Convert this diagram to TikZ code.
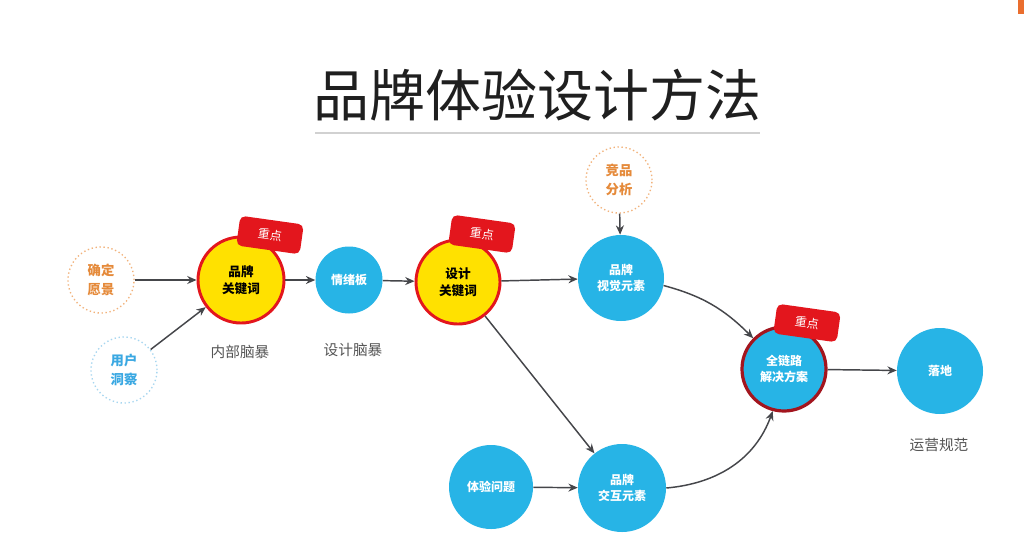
\documentclass[tikz,border=0pt]{standalone}
\usepackage{fontspec}
\newfontfamily\cjk{Noto Sans CJK SC}
\usetikzlibrary{arrows.meta}
\definecolor{cblue}{HTML}{27B4E6}
\definecolor{cyel}{HTML}{FFE100}
\definecolor{cred}{HTML}{E3161D}
\definecolor{cdred}{HTML}{A3151E}
\definecolor{corange}{HTML}{E58A3A}
\definecolor{cdashor}{HTML}{F2B27A}
\definecolor{cltblue}{HTML}{3AA8E2}
\definecolor{cdashbl}{HTML}{A6D6F0}
\definecolor{carrow}{HTML}{45464A}
\definecolor{clabel}{HTML}{555555}
\tikzset{
  base/.style={circle, inner sep=0pt, align=center, font=\cjk\fontsize{9}{12}\selectfont\bfseries},
  bluenode/.style={base, fill=cblue, text=white, minimum size=#1},
  yelnode/.style={base, fill=cyel, draw=cred, line width=2.2pt, text=black, minimum size=#1, font=\cjk\fontsize{9.5}{13}\selectfont\bfseries},
  dashnode/.style={base, draw=#1, dotted, line width=1pt, minimum size=66*0.75pt, font=\cjk\fontsize{10}{14}\selectfont\bfseries},
  tag/.style={rectangle, rounded corners=4pt, fill=cred, text=white, minimum width=64*0.75pt, minimum height=30*0.75pt, inner sep=0pt, rotate=-8, font=\cjk\fontsize{9}{10}\selectfont},
  lbl/.style={text=clabel, font=\cjk\fontsize{11}{12}\selectfont},
  arr/.style={draw=carrow, line width=1.1pt, -{Stealth[length=7pt,width=6pt]}},
}
\begin{document}
\begin{tikzpicture}[x=0.75pt,y=-0.75pt]
\useasboundingbox (0,0) rectangle (1024,558);
\fill[white] (0,0) rectangle (1024,558);
\fill[corange!80!red] (1018,0) rectangle (1024,14);
% title
\node[text=black!88, font=\cjk\fontsize{42}{46}\selectfont] (title) at (537,95) {品牌体验设计方法};
\draw[black!18, line width=1pt] (315,133) -- (760,133);
% nodes
\node[dashnode=cdashor, text=corange] (vision) at (101,280) {确定\\愿景};
\node[dashnode=cdashbl, text=cltblue] (user) at (124,370) {用户\\洞察};
\node[yelnode=86*0.75pt] (bkw) at (241,280) {品牌\\关键词};
\node[bluenode=67*0.75pt] (mood) at (349,280) {情绪板};
\node[yelnode=84*0.75pt] (dkw) at (458,282) {设计\\关键词};
\node[dashnode=cdashor, text=corange] (comp) at (619,180) {竞品\\分析};
\node[bluenode=86*0.75pt] (vis) at (621,278) {品牌\\视觉元素};
\node[bluenode=84*0.75pt, draw=cdred, line width=2.4pt] (full) at (784,369) {全链路\\解决方案};
\node[bluenode=86*0.75pt] (land) at (940,371) {落地};
\node[bluenode=84*0.75pt] (exp) at (491,487) {体验问题};
\node[bluenode=88*0.75pt] (inter) at (622,488) {品牌\\交互元素};
% tags
\node[tag] (t1) at (270,235) {重点};
\node[tag] (t2) at (482,234) {重点};
\node[tag] (t3) at (807,323) {重点};
% labels
\node[lbl] (l1) at (240,352) {内部脑暴};
\node[lbl] (l2) at (353,350) {设计脑暴};
\node[lbl] (l3) at (939,445) {运营规范};
% arrows
\draw[arr] (vision) -- (bkw);
\draw[arr] (user) -- (bkw);
\draw[arr] (bkw) -- (mood);
\draw[arr] (mood) -- (dkw);
\draw[arr] (dkw) -- (vis);
\draw[arr] (dkw) -- (inter);
\draw[arr] (comp) -- (vis);
\draw[arr] (exp) -- (inter);
\draw[arr] (full) -- (land);
\draw[arr] (vis.-10) to[out=-15,in=135] (full.135);
\draw[arr] (inter.east) to[out=5,in=-110] (full.-105);
\end{tikzpicture}
\end{document}
